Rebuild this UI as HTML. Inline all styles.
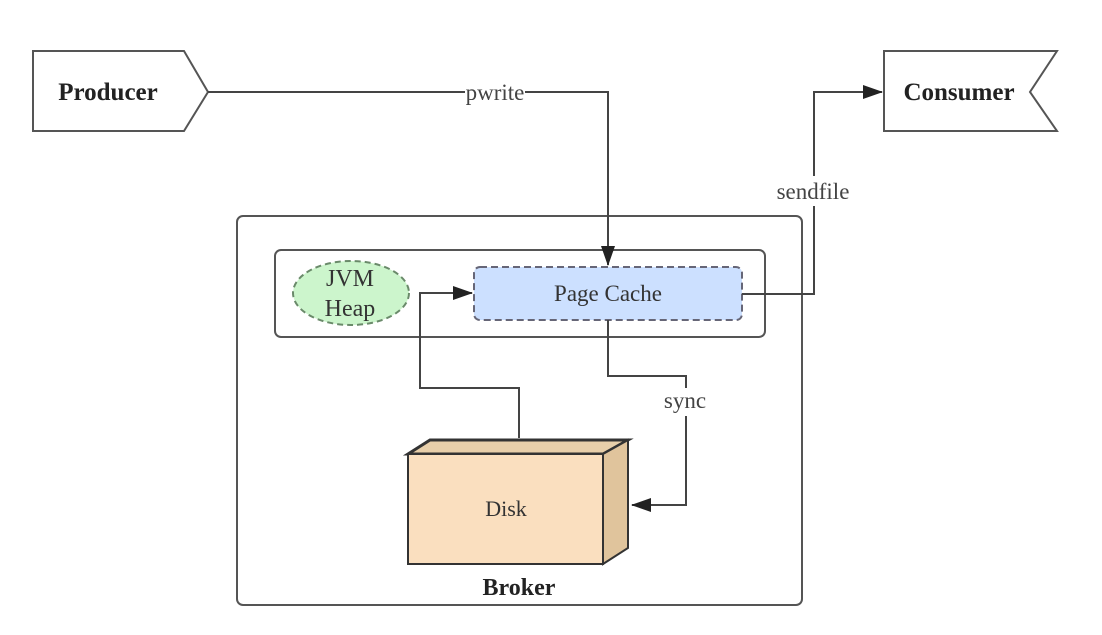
<!DOCTYPE html>
<html><head><meta charset="utf-8"><style>
html,body{margin:0;padding:0;background:#fff;}
svg{display:block;}
text{font-family:"Liberation Serif",serif;}
</style></head><body>
<svg width="1102" height="635" viewBox="0 0 1102 635" xmlns="http://www.w3.org/2000/svg">
<defs>
<marker id="b" markerWidth="20" markerHeight="14" refX="19" refY="7" orient="auto" markerUnits="userSpaceOnUse"><path d="M0,0 L20,7 L0,14 z" fill="#222"/></marker>
</defs>
<rect width="1102" height="635" fill="#fff"/>
<polygon points="33,51 184,51 208,92 184,131 33,131" fill="#fff" stroke="#555" stroke-width="2"/>
<text x="108" y="100" font-size="25" font-weight="bold" text-anchor="middle" fill="#222">Producer</text>
<polygon points="884,51 1057,51 1030,92 1057,131 884,131" fill="#fff" stroke="#555" stroke-width="2"/>
<text x="959" y="100" font-size="25" font-weight="bold" text-anchor="middle" fill="#222">Consumer</text>
<rect x="237" y="216" width="565" height="389" rx="6" fill="#fff" stroke="#555" stroke-width="2"/>
<rect x="275" y="250" width="490" height="87" rx="6" fill="#fff" stroke="#555" stroke-width="2"/>
<ellipse cx="351" cy="293" rx="58" ry="32" fill="#ccf5cc" stroke="#6a8a6a" stroke-width="2" stroke-dasharray="6,4"/>
<text x="350" y="286" font-size="24" text-anchor="middle" fill="#333">JVM</text>
<text x="350" y="316" font-size="24" text-anchor="middle" fill="#333">Heap</text>
<rect x="474" y="267" width="268" height="53" rx="6" fill="#cce0ff" stroke="#667" stroke-width="2" stroke-dasharray="7,4"/>
<text x="608" y="301" font-size="23" text-anchor="middle" fill="#333">Page Cache</text>
<polygon points="408,454 430,440 628,440 603,454" fill="#e8cfaa" stroke="#333" stroke-width="3"/>
<polygon points="603,454 628,440 628,548 603,564" fill="#e0c49c" stroke="#333" stroke-width="2"/>
<rect x="408" y="454" width="195" height="110" fill="#fadfbf" stroke="#333" stroke-width="2"/>
<text x="506" y="516" font-size="22" text-anchor="middle" fill="#333">Disk</text>
<text x="519" y="595" font-size="24" font-weight="bold" text-anchor="middle" fill="#222">Broker</text>
<polyline points="208,92 608,92 608,265" fill="none" stroke="#444" stroke-width="2" marker-end="url(#b)"/>
<rect x="465" y="82" width="60" height="22" fill="#fff"/>
<text x="495" y="100" font-size="23" text-anchor="middle" fill="#444">pwrite</text>
<polyline points="519,438 519,388 420,388 420,293 472,293" fill="none" stroke="#444" stroke-width="2" marker-end="url(#b)"/>
<polyline points="608,320 608,376 686,376 686,505 632,505" fill="none" stroke="#444" stroke-width="2" marker-end="url(#b)"/>
<rect x="660" y="388" width="52" height="28" fill="#fff"/>
<text x="685" y="408" font-size="23" text-anchor="middle" fill="#444">sync</text>
<polyline points="742,294 814,294 814,92 882,92" fill="none" stroke="#444" stroke-width="2" marker-end="url(#b)"/>
<rect x="772" y="176" width="84" height="30" fill="#fff"/>
<text x="813" y="199" font-size="23" text-anchor="middle" fill="#444">sendfile</text>
</svg>
</body></html>
